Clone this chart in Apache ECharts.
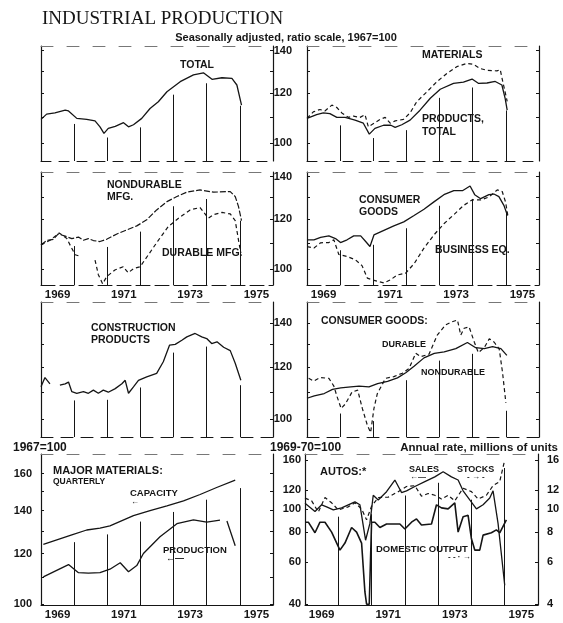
<!DOCTYPE html>
<html><head><meta charset="utf-8">
<script src="https://cdn.jsdelivr.net/npm/echarts@6/dist/echarts.min.js"></script>
<style>html,body{margin:0;padding:0;background:#fff}#c{width:563px;height:623px}</style>
</head><body><div id="c"></div>
<script>
// ---------- tick labels ----------
const yearLabels = [1969, 1971, 1973, 1975];
const yearLines = [1970, 1971, 1972, 1973, 1974, 1975];
const ratioTicks = [100, 110, 120, 130, 140];
const ratioLabels = [100, 120, 140];
const majorLabels = [100, 120, 140, 160];
const autoIndexLabels = [40, 60, 80, 100, 120, 160];
const autoUnitLabels = [4, 6, 8, 10, 12, 16];

// ---------- data (1967=100 unless noted) ----------
const totalX = [1969.0,1969.17,1969.42,1969.73,1969.83,1970.08,1970.38,1970.63,1970.78,1970.9,1971.03,1971.24,1971.49,1971.64,1971.79,1972.04,1972.29,1972.54,1972.8,1973.2,1973.6,1973.9,1974.16,1974.46,1974.76,1974.91,1975.05];
const totalY = [109.1,111.2,111.7,112.8,112.5,109.5,109.1,108.5,106.2,103.7,105.6,106.4,107.8,106.2,107.0,109.5,113.5,116.3,120.6,125.1,128.2,129.2,126.2,126.9,126.6,123.6,114.9];

const materialsX = [1969.0,1969.19,1969.39,1969.54,1969.75,1969.9,1970.05,1970.25,1970.4,1970.6,1970.75,1970.85,1970.95,1971.21,1971.36,1971.51,1971.66,1971.91,1972.11,1972.31,1972.62,1972.92,1973.22,1973.52,1973.82,1974.02,1974.23,1974.43,1974.73,1974.83,1974.9,1975.04];
const materialsY = [109.5,112.1,113.1,112.5,114.9,113.9,111.7,109.9,110.4,109.9,111.0,106.2,107.0,109.1,109.9,107.6,108.5,109.1,111.7,116.3,120.6,125.1,128.9,132.1,133.7,133.2,131.2,130.4,130.1,130.7,125.6,116.5];
const productsX = [1969.0,1969.29,1969.49,1969.69,1969.9,1970.15,1970.45,1970.7,1970.88,1971.05,1971.31,1971.53,1971.66,1971.86,1972.11,1972.41,1972.72,1973.02,1973.42,1973.72,1973.98,1974.18,1974.43,1974.68,1974.88,1974.98,1975.04];
const productsY = [109.5,111.0,111.7,111.4,109.9,109.9,108.8,107.6,103.4,105.6,106.8,106.8,106.0,107.0,108.8,112.8,117.8,121.7,124.3,124.9,126.3,124.3,124.5,125.2,123.6,117.6,112.8];

const nondurMfgX = [1969.0,1969.17,1969.37,1969.52,1969.73,1969.93,1970.13,1970.28,1970.43,1970.58,1970.78,1970.98,1971.29,1971.59,1971.89,1972.19,1972.49,1972.8,1973.1,1973.4,1973.8,1974.21,1974.71,1974.86,1974.96,1975.05];
const nondurMfgY = [109.1,110.9,111.4,113.6,112.7,111.7,112.3,111.0,111.7,110.9,110.5,111.4,113.6,115.3,117.0,119.6,124.0,127.8,130.2,132.3,133.4,132.3,132.6,130.2,125.5,119.3];
const durMfgX = [1969.0,1969.27,1969.55,1969.78,1969.9,1970.03,1970.13,1970.38,1970.63,1970.73,1970.86,1970.98,1971.23,1971.48,1971.63,1971.79,1971.99,1972.24,1972.54,1972.84,1973.2,1973.5,1973.8,1974.05,1974.21,1974.46,1974.71,1974.86,1974.96,1975.03];
const durMfgY = [109.1,111.0,114.0,111.7,108.5,105.3,104.9,null,103.3,97.9,94.7,97.2,99.6,100.8,98.6,100.1,100.8,105.3,111.0,116.7,120.9,124.0,125.1,120.3,121.9,122.9,122.2,119.3,111.0,105.9];

const consumerX = [1969.0,1969.21,1969.41,1969.66,1969.86,1970.01,1970.21,1970.41,1970.62,1970.77,1970.9,1971.02,1971.32,1971.62,1971.92,1972.23,1972.53,1972.83,1973.13,1973.43,1973.69,1973.92,1974.06,1974.24,1974.49,1974.64,1974.79,1974.94,1975.05];
const consumerY = [111.2,111.2,112.2,112.8,111.7,110.1,111.2,112.8,112.8,110.5,108.5,113.2,115.1,117.0,118.7,121.5,124.3,127.7,131.1,133.0,133.0,135.3,131.1,129.2,131.1,131.4,130.2,126.1,121.5];
const businessX = [1969.0,1969.21,1969.41,1969.66,1969.81,1969.96,1970.21,1970.46,1970.66,1970.82,1970.97,1971.12,1971.32,1971.52,1971.72,1971.97,1972.23,1972.53,1972.83,1973.13,1973.43,1973.73,1973.98,1974.24,1974.49,1974.74,1974.89,1974.99,1975.06];
const businessY = [108.5,107.9,110.0,110.1,111.2,105.4,104.6,103.4,101.2,96.7,96.1,95.6,95.0,96.1,97.8,98.4,101.9,107.9,113.2,117.9,121.9,126.1,128.6,128.6,130.0,133.4,132.6,127.7,121.5];

const constructionX = [1969.0,1969.12,1969.27,1969.42,1969.57,1969.73,1969.83,1969.93,1970.08,1970.28,1970.43,1970.58,1970.73,1970.88,1971.03,1971.24,1971.44,1971.54,1971.64,1971.79,1971.94,1972.19,1972.49,1972.69,1972.88,1973.05,1973.25,1973.4,1973.65,1973.85,1974.0,1974.15,1974.31,1974.51,1974.71,1974.86,1975.03];
const constructionY = [112.0,115.7,113.2,null,112.7,113.2,113.9,110.1,109.5,110.1,109.5,110.7,109.5,110.7,109.9,111.3,113.2,114.6,109.5,112.0,114.6,116.0,117.4,122.3,129.7,130.0,131.9,133.5,135.1,133.5,132.7,130.4,131.2,128.7,127.2,121.7,114.6];

const cgNondurX = [1969.0,1969.22,1969.52,1969.77,1970.02,1970.32,1970.57,1970.87,1971.13,1971.43,1971.73,1971.98,1972.23,1972.53,1972.84,1973.14,1973.49,1973.84,1974.09,1974.35,1974.6,1974.85,1975.03];
const cgNondurY = [107.6,108.5,109.4,111.0,111.6,112.0,112.3,112.0,113.3,114.2,115.6,117.7,120.4,124.0,126.0,126.6,128.1,130.9,128.5,128.1,129.0,128.1,125.1];
const cgDurX = [1969.05,1969.2,1969.4,1969.66,1969.81,1969.91,1970.03,1970.16,1970.36,1970.53,1970.67,1970.82,1970.92,1971.02,1971.12,1971.37,1971.62,1971.88,1972.08,1972.28,1972.43,1972.68,1972.93,1973.18,1973.38,1973.54,1973.64,1973.74,1973.89,1974.05,1974.17,1974.35,1974.5,1974.65,1974.8,1974.9,1975.0];
const cgDurY = [115.4,114.3,115.7,115.4,112.3,108.1,103.8,105.5,110.0,110.7,103.8,97.9,95.4,103.8,109.3,115.4,116.1,117.5,119.5,126.0,124.5,125.6,134.3,139.2,140.8,141.6,134.3,137.6,138.3,131.0,126.3,128.6,132.6,131.0,127.9,117.8,105.9];

// Major materials, quarterly
const capacityX = [1969.07,1969.93,1970.38,1970.78,1971.08,1971.79,1972.29,1972.8,1973.3,1973.8,1974.3,1974.86];
const capacityY = [124.0,128.3,130.6,131.5,132.6,137.5,140.0,142.4,145.0,148.4,152.2,156.3];
const mmProdX = [1969.07,1969.83,1970.13,1970.43,1970.78,1971.08,1971.39,1971.64,1971.89,1972.09,1972.59,1973.1,1973.6,1974.0,1974.4,1974.5,1974.61,1974.86];
const mmProdY = [110.3,115.3,112.0,111.8,112.0,113.4,116.1,112.4,114.9,120.0,127.5,133.6,135.5,134.4,135.3,null,134.9,123.4];

// Autos: sales & stocks (1969-70=100), domestic output (millions of units, annual rate)
const salesX = [1969.0,1969.3,1969.5,1969.65,1969.85,1970.1,1970.5,1970.65,1970.82,1970.95,1971.05,1971.2,1971.45,1971.7,1971.9,1972.05,1972.3,1972.6,1972.9,1973.15,1973.4,1973.6,1973.75,1973.95,1974.15,1974.35,1974.55,1974.65,1974.8,1975.0];
const salesY = [105.6,97.5,104,102,99,101,107,104,74,87,114,109,118,132,117,119,124,130,136,143,136,132,119,109,100,104,111,119,87,48];
const stocksX = [1969.0,1969.2,1969.4,1969.6,1969.8,1970.0,1970.3,1970.5,1970.7,1970.85,1971.0,1971.2,1971.5,1971.8,1972.05,1972.3,1972.5,1972.7,1972.9,1973.1,1973.3,1973.5,1973.75,1974.0,1974.2,1974.45,1974.65,1974.85,1975.0];
const stocksY = [110.9,108,97,111.5,106,99,102,106,100,90,102.6,111.5,112,118,124,125,113,116,114,110,114,108,122,118,110,114,125,130,160];
const outputX = [1969.0,1969.1,1969.3,1969.45,1969.6,1969.8,1970.05,1970.2,1970.4,1970.55,1970.7,1970.8,1970.85,1970.93,1971.0,1971.1,1971.25,1971.45,1971.85,1972.0,1972.2,1972.35,1972.5,1972.8,1972.95,1973.1,1973.3,1973.5,1973.6,1973.75,1973.9,1974.0,1974.1,1974.25,1974.35,1974.6,1974.75,1974.85,1975.05];
const outputY = [8.8,8.8,7.95,8.8,8.8,8.0,6.73,7.2,8.36,8.0,7.2,4.5,4.0,4.0,8.8,8.8,8.36,8.65,8.65,8.24,8.8,9.08,8.57,8.65,10.4,10.1,10.0,10.6,8.0,9.27,9.4,7.5,6.73,6.73,7.77,7.95,8.17,7.95,9.0];

// ---------- helpers ----------
const SANS = '"Liberation Sans", Arial, sans-serif';
const INK = '#151515';
function pairs(xs, ys) { return xs.map((x, i) => [x, ys[i]]); }
function valueAt(xs, ys, x) {
  for (let i = 0; i < xs.length - 1; i++) {
    if (ys[i] == null || ys[i + 1] == null) continue;
    if (x >= xs[i] && x <= xs[i + 1]) {
      const t = (x - xs[i]) / (xs[i + 1] - xs[i]);
      return ys[i] + t * (ys[i + 1] - ys[i]);
    }
  }
  if (x > xs[xs.length - 1]) return ys[ys.length - 1];
  if (x < xs[0]) return ys[0];
  return null;
}
const SOLID = { type: 'solid', width: 1.3 };
const DASH = { type: [4, 3], width: 1.2 };
const LDASH = { type: [6, 2], width: 1.2 };

const panels = [
  { g: { left: 41, top: 46, width: 232, height: 115 }, y: [93.8, 142.4], labels: null, xl: false,
    s: [{ x: totalX, y: totalY, st: SOLID }], anchor: 'min', bottom: [10, 8] },
  { g: { left: 307, top: 46, width: 232, height: 115 }, y: [93.8, 142.4], labels: ratioLabels, xl: false,
    s: [{ x: materialsX, y: materialsY, st: DASH }, { x: productsX, y: productsY, st: SOLID }], anchor: 'min', bottom: [10, 8] },
  { g: { left: 41, top: 172, width: 232, height: 113 }, y: [94.3, 142.4], labels: null, xl: true,
    s: [{ x: nondurMfgX, y: nondurMfgY, st: LDASH }, { x: durMfgX, y: durMfgY, st: DASH }], anchor: 'max', bottom: [14, 5] },
  { g: { left: 307, top: 172, width: 232, height: 113 }, y: [94.3, 142.4], labels: ratioLabels, xl: true,
    s: [{ x: consumerX, y: consumerY, st: SOLID }, { x: businessX, y: businessY, st: DASH }], anchor: 'max', bottom: [14, 5] },
  { g: { left: 41, top: 302, width: 232, height: 135 }, y: [93.9, 150.9], labels: null, xl: false,
    s: [{ x: constructionX, y: constructionY, st: SOLID }], anchor: 'min', bottom: [12, 8] },
  { g: { left: 307, top: 302, width: 232, height: 135 }, y: [93.9, 150.9], labels: ratioLabels, xl: false,
    s: [{ x: cgNondurX, y: cgNondurY, st: SOLID }, { x: cgDurX, y: cgDurY, st: DASH }], anchor: 'min', bottom: [12, 8] },
  { g: { left: 41, top: 454, width: 232, height: 151 }, y: [99.7, 171.7], labels: majorLabels, xl: true,
    s: [{ x: capacityX, y: capacityY, st: SOLID }, { x: mmProdX, y: mmProdY, st: SOLID }], anchor: 'max', bottom: 'solid',
    ticks: [100, 110, 120, 130, 140, 150, 160], labelMargin: 9 },
  { g: { left: 305, top: 454, width: 233, height: 151 }, y: [39.7, 169.5], labels: autoIndexLabels, xl: true,
    s: [{ x: salesX, y: salesY, st: SOLID }, { x: stocksX, y: stocksY, st: DASH },
        { x: outputX, y: outputY, st: { type: 'solid', width: 1.6 }, right: true }],
    anchor: 'max', bottom: 'solid', ticks: autoIndexLabels, labelMargin: 4,
    right: { y: [3.97, 16.95], labels: autoUnitLabels } }
];

const option = { animation: false, backgroundColor: '#fff', grid: [], xAxis: [], yAxis: [], series: [] };

panels.forEach((p, i) => {
  option.grid.push({ left: p.g.left, top: p.g.top, width: p.g.width, height: p.g.height, containLabel: false, outerBoundsMode: 'none' });
  const xb = option.xAxis.length;
  option.xAxis.push({
    type: 'value', gridIndex: i, min: 1969, max: 1976, position: 'bottom',
    axisLine: { show: true, onZero: false, lineStyle: { color: INK, width: 1, type: p.bottom } },
    axisTick: { show: false }, splitLine: { show: false },
    axisLabel: { show: p.xl, customValues: yearLabels.map(v => v + 0.5), formatter: v => String(Math.round(v - 0.5)),
      color: INK, fontSize: 11.5, fontWeight: 'bold', fontFamily: SANS, margin: 4 }
  });
  option.xAxis.push({
    type: 'value', gridIndex: i, min: 1969, max: 1976, position: 'top',
    axisLine: { show: true, onZero: false, lineStyle: { color: '#777', width: 1, type: [12, 14] } },
    axisTick: { show: false }, axisLabel: { show: false }, splitLine: { show: false }
  });
  const yl = option.yAxis.length;
  const tks = p.ticks || ratioTicks;
  option.yAxis.push({
    type: 'log', logBase: 10, gridIndex: i, min: p.y[0], max: p.y[1], position: 'left',
    axisLine: { show: true, onZero: false, lineStyle: { color: INK, width: 1.2 } },
    axisTick: { show: true, inside: true, length: 3, customValues: tks, lineStyle: { color: INK } },
    axisLabel: { show: !!p.labels, customValues: p.labels || [], formatter: v => String(Math.round(v)),
      color: INK, fontSize: 11, fontWeight: 'bold', fontFamily: SANS, margin: p.labelMargin || 15 },
    splitLine: { show: false }
  });
  const yr = option.yAxis.length;
  const r = p.right;
  option.yAxis.push({
    type: 'log', logBase: 10, gridIndex: i, min: r ? r.y[0] : p.y[0], max: r ? r.y[1] : p.y[1], position: 'right',
    axisLine: { show: true, onZero: false, lineStyle: { color: INK, width: 1.2 } },
    axisTick: { show: true, inside: true, length: 3, customValues: r ? r.labels : tks, lineStyle: { color: INK } },
    axisLabel: { show: !!r, customValues: r ? r.labels : [], formatter: v => String(Math.round(v)),
      color: INK, fontSize: 11, fontWeight: 'bold', fontFamily: SANS, margin: 9 },
    splitLine: { show: false }
  });

  // vertical year rules, stopping just under the reference curve
  const gap = Math.exp(-8 * Math.log(p.y[1] / p.y[0]) / p.g.height);
  const leftSeries = p.s.filter(s => !s.right);
  const rules = [];
  yearLines.forEach(yrv => {
    const vals = leftSeries.map(s => valueAt(s.x, s.y, yrv)).filter(v => v != null);
    if (!vals.length) return;
    const v = p.anchor === 'max' ? Math.max(...vals) : Math.min(...vals);
    rules.push([{ coord: [yrv, p.y[0]] }, { coord: [yrv, v * gap] }]);
  });

  p.s.forEach((s, k) => {
    const ser = {
      type: 'line', xAxisIndex: xb, yAxisIndex: s.right ? yr : yl,
      data: pairs(s.x, s.y), showSymbol: false, symbol: 'none', connectNulls: false, silent: true,
      lineStyle: Object.assign({ color: INK }, s.st), z: 3
    };
    if (k === 0) {
      ser.markLine = { silent: true, symbol: ['none', 'none'], label: { show: false }, animation: false,
        lineStyle: { color: INK, width: 1, type: 'solid' }, emphasis: { disabled: true }, data: rules };
    }
    option.series.push(ser);
  });
});

function T(text, x, y, size, extra) {
  extra = extra || {};
  return {
    type: 'text', x: x, y: y, silent: true, z: 10,
    style: {
      text: text, fill: INK,
      font: (extra.weight || 'bold') + ' ' + size + 'px ' + (extra.family || SANS),
      textAlign: extra.align || 'left', align: extra.align || 'left',
      textVerticalAlign: 'middle', verticalAlign: 'middle'
    }
  };
}
option.graphic = { elements: [
  T('INDUSTRIAL PRODUCTION', 42, 19, 19, { weight: 'normal', family: '"Liberation Serif", "DejaVu Serif", serif' }),
  T('Seasonally adjusted, ratio scale, 1967=100', 286, 37.5, 11, { align: 'center' }),
  T('TOTAL', 180, 65, 10.5),
  T('MATERIALS', 422, 55, 10.5),
  T('PRODUCTS,', 422, 119.5, 10.5),
  T('TOTAL', 422, 132, 10.5),
  T('NONDURABLE', 107, 185, 10.5),
  T('MFG.', 107, 197, 10.5),
  T('DURABLE MFG.', 162, 253, 10.5),
  T('CONSUMER', 359, 200, 10.5),
  T('GOODS', 359, 212, 10.5),
  T('BUSINESS EQ.', 435, 250, 10.5),
  T('CONSTRUCTION', 91, 328.5, 10.5),
  T('PRODUCTS', 91, 340.5, 10.5),
  T('CONSUMER GOODS:', 321, 321, 10.5),
  T('DURABLE', 382, 345, 9),
  T('NONDURABLE', 421, 373, 9),
  T('1967=100', 13, 448, 12),
  T('MAJOR MATERIALS:', 53, 470.5, 11),
  T('QUARTERLY', 53, 481.5, 8.5),
  T('CAPACITY', 130, 493.5, 9.5),
  T('\u2190', 131, 502, 8),
  T('PRODUCTION', 163, 550, 9.5),
  T('\u2190\u2014', 166, 558.5, 9),
  T('1969-70=100', 270, 448, 12),
  T('Annual rate, millions of units', 558, 448, 11.5, { align: 'right' }),
  T('AUTOS:*', 320, 471.5, 11),
  T('SALES', 409, 469.5, 9),
  T('\u2190\u2014', 410, 476.5, 8),
  T('STOCKS', 457, 469.5, 9),
  T('- \u2192 -', 467, 477, 8),
  T('DOMESTIC OUTPUT', 376, 549, 9.5),
  T('- - \u00b7 \u2192', 448, 556.5, 8)
] };

const chart = echarts.init(document.getElementById('c'), null, { renderer: 'canvas', width: 563, height: 623 });
chart.setOption(option);
</script></body></html>
